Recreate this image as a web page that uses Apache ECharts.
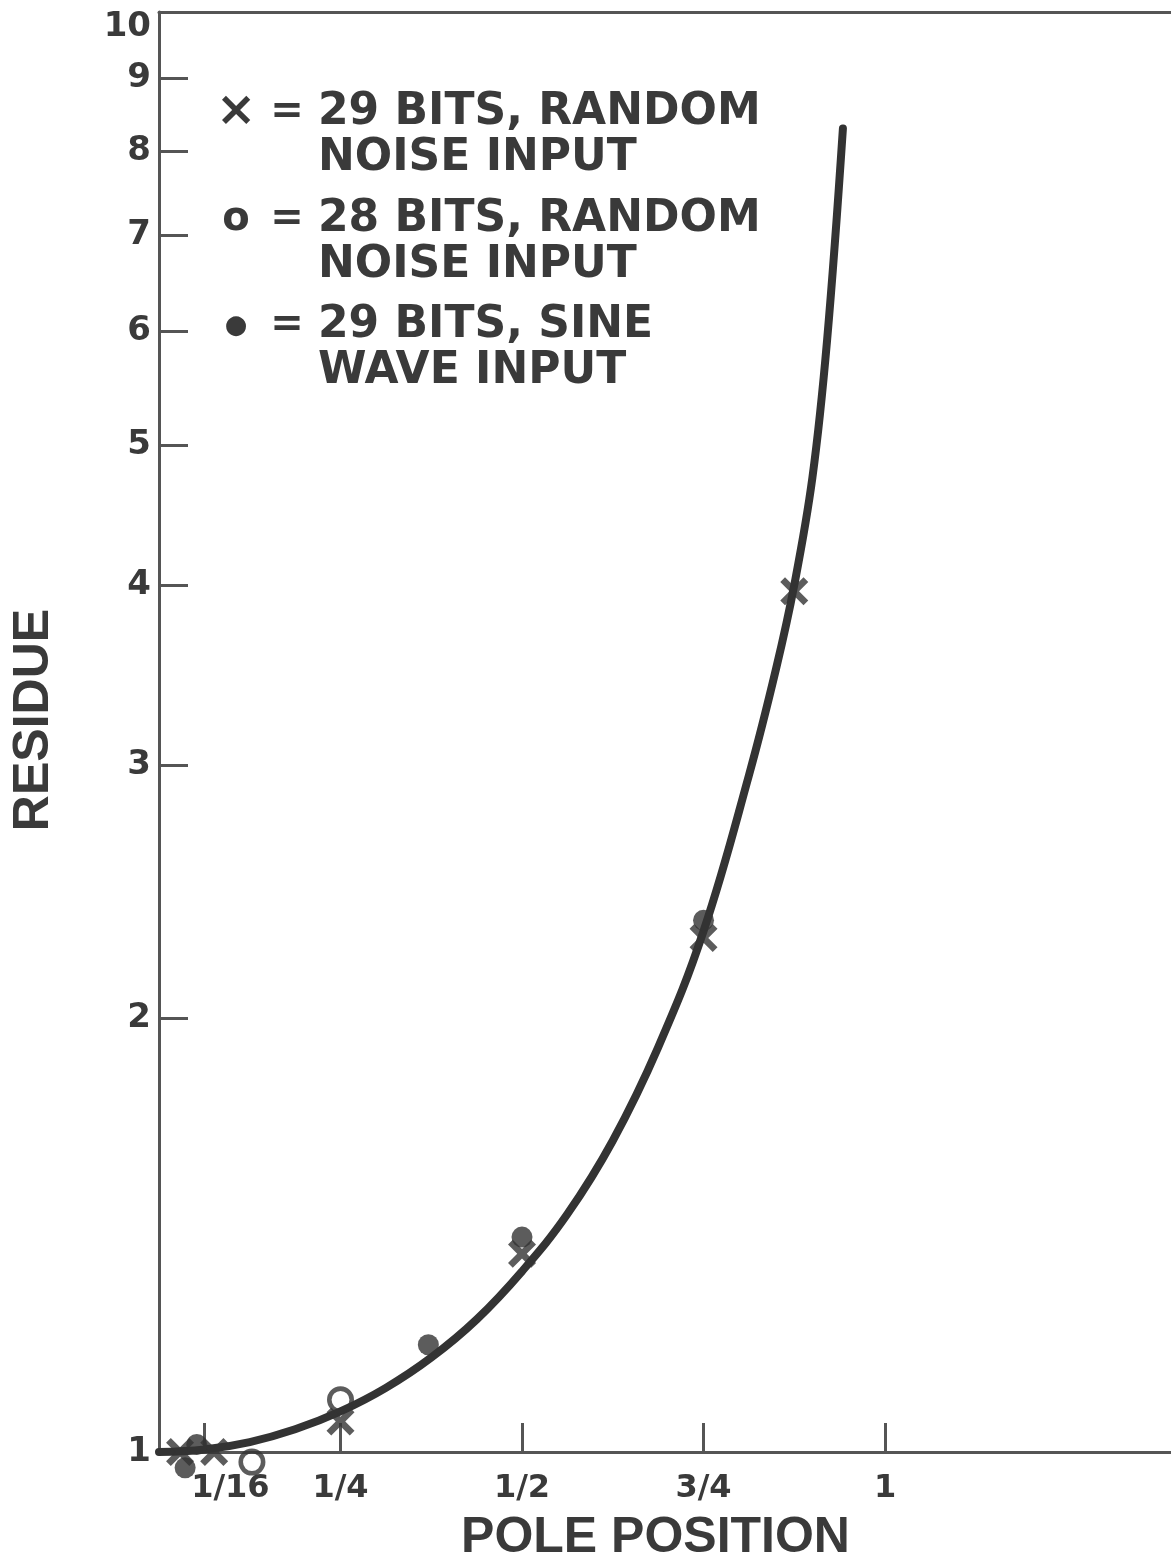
<!DOCTYPE html>
<html>
<head>
<meta charset="utf-8">
<script src="https://cdn.jsdelivr.net/npm/echarts@6/dist/echarts.min.js"></script>
<style>
html,body{margin:0;padding:0;background:#fff;}
#chart{width:1171px;height:1561px;}
</style>
</head>
<body>
<div id="chart"></div>
<script>
// ---- data ----
const xTickVals = [0.0625, 0.25, 0.5, 0.75, 1];
const xTickLabels = ['1/16', '1/4', '1/2', '3/4', '1'];
const yTickVals = [2, 3, 4, 5, 6, 7, 8, 9];
const yLabelVals = [1, 2, 3, 4, 5, 6, 7, 8, 9, 10];

// fitted curve
const curveX = [0, 0.0625, 0.125, 0.1875, 0.25, 0.3125, 0.375, 0.4375, 0.5, 0.5625, 0.625, 0.6875, 0.75, 0.8125, 0.85, 0.875, 0.9, 0.92, 0.942];
const curveY = [1.0, 1.004, 1.016, 1.037, 1.067, 1.108, 1.163, 1.236, 1.335, 1.463, 1.645, 1.91, 2.30, 2.95, 3.5, 4.0, 4.75, 5.9, 8.3];

// x = 29 bits, random noise input
const crossX = [0.029, 0.076, 0.25, 0.5, 0.75, 0.875];
const crossY = [1.0, 1.0, 1.05, 1.373, 2.275, 3.96];
// o = 28 bits, random noise input
const ringX = [0.128, 0.25];
const ringY = [0.984, 1.087];
// ● = 29 bits, sine wave input
const dotX = [0.036, 0.052, 0.371, 0.5, 0.75];
const dotY = [0.975, 1.012, 1.187, 1.41, 2.34];

const seriesNames = ['29 BITS, RANDOM NOISE INPUT', '28 BITS, RANDOM NOISE INPUT', '29 BITS, SINE WAVE INPUT'];
const legendLines = [['29 BITS, RANDOM', 'NOISE INPUT'], ['28 BITS, RANDOM', 'NOISE INPUT'], ['29 BITS, SINE', 'WAVE INPUT']];
const legendSymbols = ['×', 'o', '●'];

// ---- chart ----
const INK = '#3a3a3a';
const AX = '#555';
const X_MAX = 1.4063;
const zip = (a, b) => a.map((v, i) => [v, b[i]]);
const crossPath = 'path://M0,1.7 L1.7,0 L5,3.3 L8.3,0 L10,1.7 L6.7,5 L10,8.3 L8.3,10 L5,6.7 L1.7,10 L0,8.3 L3.3,5 Z';
const ringPath = 'path://M0,10 A10,10,0,1,1,20,10 A10,10,0,1,1,0,10 Z M3.4,10 A6.6,6.6,0,1,0,16.6,10 A6.6,6.6,0,1,0,3.4,10 Z';

const chart = echarts.init(document.getElementById('chart'), null, {renderer: 'canvas'});

const lineH = 46;
const FF = 'DejaVu Sans';
const legendRich = {
  s: {width: 40, align: 'center', fontSize: 48, fontFamily: FF, fontWeight: 'bold', fill: INK, lineHeight: lineH},
  o: {width: 40, align: 'center', fontSize: 40, fontFamily: FF, fontWeight: 'bold', fill: INK, lineHeight: lineH},
  d: {width: 40, align: 'center', fontSize: 26, fontFamily: FF, fontWeight: 'bold', fill: INK, lineHeight: lineH},
  e: {width: 62, align: 'center', fontSize: 40, fontFamily: FF, fontWeight: 'bold', fill: INK, lineHeight: lineH},
  p: {width: 102, fontSize: 40, lineHeight: lineH},
  t: {fontSize: 44, fontFamily: FF, fontWeight: 'bold', fill: INK, lineHeight: lineH}
};
const symKeys = ['s', 'o', 'd'];
const legendTops = [90, 197, 303];

const legendGraphics = seriesNames.map((name, i) => ({
  type: 'text',
  x: 216,
  y: legendTops[i],
  z: 10,
  style: {
    text: '{' + symKeys[i] + '|' + legendSymbols[i] + '}{e|=}{t|' + legendLines[i][0] + '}\n{p| }{t|' + legendLines[i][1] + '}',
    rich: legendRich,
    align: 'left',
    verticalAlign: 'top',
    fill: INK
  }
}));

const option = {
  backgroundColor: '#fff',
  animation: false,
  grid: {left: 159, top: 12, width: 1021, height: 1440, show: false, outerBoundsMode: 'none', containLabel: false},
  graphic: legendGraphics,
  xAxis: [{
    type: 'value',
    min: 0,
    max: X_MAX,
    name: 'POLE POSITION',
    nameLocation: 'middle',
    nameGap: 61,
    nameTextStyle: {fontSize: 50, fontFamily: 'Liberation Sans', fontWeight: 'bold', color: INK, padding: [0, 28, 0, 0]},
    axisLine: {show: true, lineStyle: {color: AX, width: 3}},
    axisTick: {show: true, inside: true, length: 29, lineStyle: {color: AX, width: 3}, customValues: xTickVals},
    axisLabel: {
      show: true, margin: 21, fontSize: 32, fontFamily: FF, fontWeight: 'bold', color: INK,
      customValues: xTickVals,
      formatter: function (v) {
        const idx = xTickVals.findIndex(t => Math.abs(t - v) < 1e-6);
        if (idx < 0) return '';
        return idx === 0 ? '{sh|' + xTickLabels[idx] + '}' : xTickLabels[idx];
      },
      rich: {sh: {padding: [0, 0, 0, 52], fontSize: 32, fontFamily: FF, fontWeight: 'bold', color: INK}}
    },
    splitLine: {show: false}
  }, {
    type: 'value',
    position: 'top',
    min: 0,
    max: X_MAX,
    axisLine: {show: true, lineStyle: {color: AX, width: 3}},
    axisTick: {show: false},
    axisLabel: {show: false},
    splitLine: {show: false}
  }],
  yAxis: {
    type: 'log',
    logBase: 10,
    min: 1,
    max: 10,
    name: 'RESIDUE',
    nameLocation: 'middle',
    nameGap: 100,
    nameRotate: 90,
    nameTextStyle: {fontSize: 50, fontFamily: 'Liberation Sans', fontWeight: 'bold', color: INK, padding: [0, 0, 0, 24]},
    axisLine: {show: true, lineStyle: {color: AX, width: 3}},
    axisTick: {show: true, inside: true, length: 29, lineStyle: {color: AX, width: 3}, customValues: yTickVals},
    axisLabel: {
      show: true, margin: 8, fontSize: 34, fontFamily: FF, fontWeight: 'bold', color: INK,
      customValues: yLabelVals,
      formatter: function (v) {
        const r = Math.round(v);
        return r === 10 ? '{top|10}' : String(r);
      },
      rich: {top: {padding: [30, 0, 0, 0], fontSize: 34, fontFamily: FF, fontWeight: 'bold', color: INK}}
    },
    splitLine: {show: false}
  },
  series: [
    {
      name: 'curve',
      type: 'line',
      data: zip(curveX, curveY),
      smooth: 0.4,
      showSymbol: false,
      symbol: 'none',
      clip: false,
      lineStyle: {color: '#333', width: 8, cap: 'round'},
      z: 2
    },
    {
      name: seriesNames[0],
      type: 'scatter',
      data: zip(crossX, crossY),
      symbol: crossPath,
      symbolSize: 28,
      clip: false,
      itemStyle: {color: '#333'},
      z: 3
    },
    {
      name: seriesNames[1],
      type: 'scatter',
      data: zip(ringX, ringY),
      symbol: ringPath,
      symbolSize: 27,
      clip: false,
      itemStyle: {color: '#333'},
      z: 4
    },
    {
      name: seriesNames[2],
      type: 'scatter',
      data: zip(dotX, dotY),
      symbol: 'circle',
      symbolSize: 21,
      clip: false,
      itemStyle: {color: '#333'},
      z: 5
    }
  ]
};
chart.setOption(option);
</script>
</body>
</html>
